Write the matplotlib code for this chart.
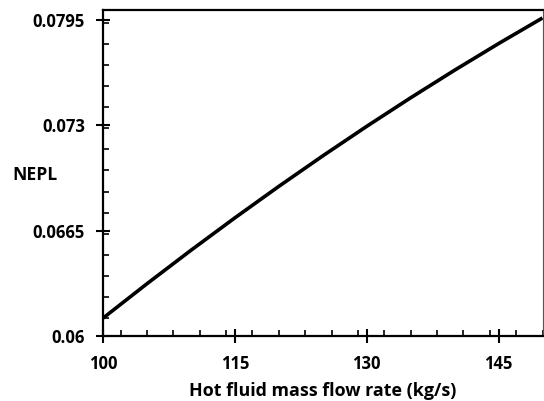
import matplotlib
matplotlib.use("Agg")
import matplotlib.pyplot as plt
from matplotlib.ticker import MultipleLocator

flow_rate = [100, 105, 110, 115, 120, 125, 130, 135, 140, 145, 150]
nepl = [0.0611, 0.06322, 0.06528, 0.06728, 0.06922, 0.0711, 0.07292, 0.07468, 0.07638, 0.07802, 0.0796]
x_ticks = [100, 115, 130, 145]
y_ticks = [0.06, 0.0665, 0.073, 0.0795]
y_tick_labels = ["0.06", "0.0665", "0.073", "0.0795"]

plt.rcParams['font.family'] = ['Open Sans', 'DejaVu Sans']

fig = plt.figure(figsize=(5.44, 4.01), dpi=100)
ax = fig.add_axes([103/544, 1-336/401, (542.5-103)/544, (336-10)/401])

ax.plot(flow_rate, nepl, color='black', lw=2.6, solid_capstyle='butt')

ax.set_xlim(100, 150)
ax.set_ylim(0.06, 0.08009)
ax.set_xticks(x_ticks)
ax.set_xticklabels([str(v) for v in x_ticks])
ax.set_yticks(y_ticks)
ax.set_yticklabels(y_tick_labels)
ax.xaxis.set_minor_locator(MultipleLocator(3))
ax.yaxis.set_minor_locator(MultipleLocator(0.0013))

ax.tick_params(which='major', direction='inout', length=10, width=1.5, labelsize=12)
ax.tick_params(axis='x', which='major', pad=9)
ax.tick_params(axis='y', which='major', pad=8)
ax.tick_params(which='minor', direction='in', length=4, width=1.2)
for lbl in ax.get_xticklabels() + ax.get_yticklabels():
    lbl.set_fontweight('bold')

for s in ['left', 'bottom', 'top']:
    ax.spines[s].set_linewidth(1.6)
    ax.spines[s].set_color('black')
ax.spines['right'].set_linewidth(0.8)
ax.spines['right'].set_color('#555555')

ax.set_xlabel('Hot fluid mass flow rate (kg/s)', fontsize=12.9, fontweight='bold', labelpad=6)
fig.text(35/544, 1-175/401, 'NEPL', fontsize=12.6, fontweight='bold', ha='center', va='center')

fig.savefig('out.png', dpi=100)
